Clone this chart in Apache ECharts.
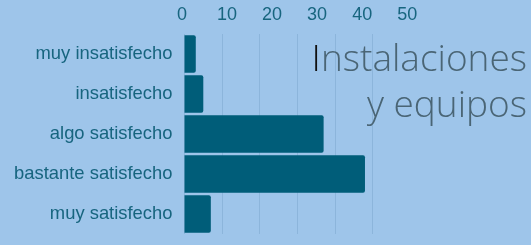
<!DOCTYPE html>
<html>
<head>
<meta charset="utf-8">
<script src="https://cdn.jsdelivr.net/npm/echarts@6/dist/echarts.min.js"></script>
<style>
  html, body { margin: 0; padding: 0; background: #9ec5ea; }
  #chart { width: 531px; height: 245px; }
</style>
</head>
<body>
<div id="chart"></div>
<script>
// categorias (de arriba a abajo)
const categorias = ['muy insatisfecho', 'insatisfecho', 'algo satisfecho', 'bastante satisfecho', 'muy satisfecho'];
const valores = [3, 5, 37, 48, 7];
const etiquetasEje = [0, 10, 20, 30, 40, 50];

const colorBarra = '#005d79';
const colorTexto = '#17657f';
const colorTitulo = '#4a6575';

var dom = document.getElementById('chart');
var myChart = echarts.init(dom);
var option;

var estiloTitulo = {
  fontFamily: 'Open Sans',
  fontWeight: 300,
  fontSize: 37,
  lineHeight: 45,
  color: colorTitulo,
  rich: {
    i: { fontFamily: 'Open Sans', fontWeight: 300, fontSize: 37, lineHeight: 45, color: '#111111' }
  }
};

option = {
  backgroundColor: '#9ec5ea',
  animation: false,
  title: [
    { text: '{i|I}nstalaciones', right: 4, top: 38, padding: 0, textStyle: estiloTitulo },
    { text: 'y equipos', right: 4, top: 83.5, padding: 0, textStyle: estiloTitulo }
  ],
  grid: [
    { left: 184.5, width: 188, top: 34, height: 200 },
    { left: 182, width: 225.2, top: 34, height: 200 }
  ],
  xAxis: [
    {
      type: 'value',
      gridIndex: 0,
      min: 0,
      max: 50,
      interval: 10,
      axisLine: { show: false },
      axisTick: { show: false },
      axisLabel: { show: false },
      splitLine: { show: true, lineStyle: { color: '#8cb5db', width: 1 } }
    },
    {
      type: 'value',
      gridIndex: 1,
      position: 'top',
      min: 0,
      max: 50,
      interval: 10,
      axisLine: { show: false },
      axisTick: { show: false },
      splitLine: { show: false },
      axisLabel: {
        margin: 10,
        fontFamily: 'Liberation Sans',
        fontSize: 18,
        color: colorTexto,
        formatter: function (v) { return etiquetasEje.indexOf(v) >= 0 ? String(v) : ''; }
      }
    }
  ],
  yAxis: [
    {
      type: 'category',
      gridIndex: 0,
      inverse: true,
      data: categorias,
      axisLine: { show: false },
      axisTick: { show: false },
      axisLabel: {
        margin: 12,
        fontFamily: 'Liberation Sans',
        fontSize: 18.4,
        color: colorTexto
      }
    },
    {
      type: 'category',
      gridIndex: 1,
      show: false,
      data: categorias
    }
  ],
  series: [
    {
      type: 'bar',
      xAxisIndex: 0,
      yAxisIndex: 0,
      data: valores,
      barCategoryGap: '6%',
      itemStyle: { color: colorBarra, borderRadius: [0, 2, 2, 0] },
      silent: true
    }
  ]
};

if (option && typeof option === 'object') {
  myChart.setOption(option);
}
</script>
</body>
</html>
